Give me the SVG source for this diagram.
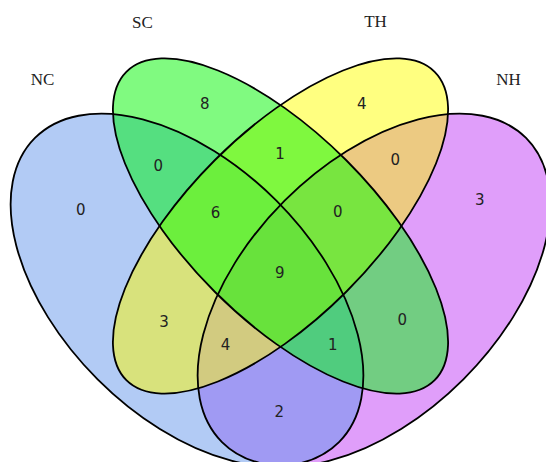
<svg xmlns="http://www.w3.org/2000/svg" xmlns:xlink="http://www.w3.org/1999/xlink" width="546" height="462" viewBox="0 0 546 462">
  <style>
    .outline { fill: none; stroke: #000; stroke-width: 1.8; }
    .set-label { font-family: "Liberation Serif", "Times New Roman", serif; font-size: 17px; fill: #222; text-anchor: middle; }
    .count { font-family: "DejaVu Sans", Verdana, sans-serif; font-size: 15px; fill: #222; text-anchor: middle; }
  </style>
  <defs>
    <!-- the four set shapes -->
    <ellipse id="eNC" cx="187" cy="290" rx="215" ry="126.4" transform="rotate(45 187 290)"/>
    <ellipse id="eSC" cx="280.5" cy="226" rx="218" ry="93" transform="rotate(45 280.5 226)"/>
    <ellipse id="eTH" cx="280.5" cy="226" rx="218" ry="93" transform="rotate(-45 280.5 226)"/>
    <ellipse id="eNH" cx="374" cy="290" rx="215" ry="126.4" transform="rotate(-45 374 290)"/>
    <clipPath id="cNC"><use href="#eNC"/></clipPath>
    <clipPath id="cSC"><use href="#eSC"/></clipPath>
    <clipPath id="cTH"><use href="#eTH"/></clipPath>
    <clipPath id="cNH"><use href="#eNH"/></clipPath>
  </defs>

  <rect width="546" height="462" fill="#fff"/>

  <!-- region fills, painted from single sets up to the four-way overlap -->
  <g id="regions">
    <use href="#eNC" fill="#b2cbf5"/>
    <use href="#eSC" fill="#80fa80"/>
    <use href="#eTH" fill="#ffff80"/>
    <use href="#eNH" fill="#e09efa"/>

    <g clip-path="url(#cNC)"><use href="#eSC" fill="#55df80"/></g>
    <g clip-path="url(#cNC)"><use href="#eTH" fill="#d8e27c"/></g>
    <g clip-path="url(#cNC)"><use href="#eNH" fill="#a09af3"/></g>
    <g clip-path="url(#cSC)"><use href="#eTH" fill="#7ff83f"/></g>
    <g clip-path="url(#cSC)"><use href="#eNH" fill="#72cd82"/></g>
    <g clip-path="url(#cTH)"><use href="#eNH" fill="#ecca82"/></g>

    <g clip-path="url(#cNC)"><g clip-path="url(#cSC)"><use href="#eTH" fill="#6cef3d"/></g></g>
    <g clip-path="url(#cNC)"><g clip-path="url(#cSC)"><use href="#eNH" fill="#50cc7e"/></g></g>
    <g clip-path="url(#cNC)"><g clip-path="url(#cTH)"><use href="#eNH" fill="#d2cb80"/></g></g>
    <g clip-path="url(#cSC)"><g clip-path="url(#cTH)"><use href="#eNH" fill="#78e540"/></g></g>

    <g clip-path="url(#cNC)"><g clip-path="url(#cSC)"><g clip-path="url(#cTH)"><use href="#eNH" fill="#68e23c"/></g></g></g>
  </g>

  <!-- set outlines and names -->
  <g id="set-nc">
    <use href="#eNC" class="outline"/>
    <text class="set-label" x="42.5" y="85">NC</text>
  </g>
  <g id="set-sc">
    <use href="#eSC" class="outline"/>
    <text class="set-label" x="142.5" y="28">SC</text>
  </g>
  <g id="set-th">
    <use href="#eTH" class="outline"/>
    <text class="set-label" x="375.5" y="27">TH</text>
  </g>
  <g id="set-nh">
    <use href="#eNH" class="outline"/>
    <text class="set-label" x="508.5" y="85">NH</text>
  </g>

  <!-- element counts per region -->
  <g id="counts">
    <text class="count" x="80.7" y="215">0</text>
    <text class="count" x="204.7" y="109.3">8</text>
    <text class="count" x="361.7" y="109.3">4</text>
    <text class="count" x="479.7" y="205">3</text>
    <text class="count" x="158.3" y="170.7">0</text>
    <text class="count" x="280" y="159">1</text>
    <text class="count" x="395.3" y="165">0</text>
    <text class="count" x="215.5" y="218.3">6</text>
    <text class="count" x="337.7" y="216.7">0</text>
    <text class="count" x="279.7" y="277.7">9</text>
    <text class="count" x="164" y="327">3</text>
    <text class="count" x="402.3" y="325.3">0</text>
    <text class="count" x="225.5" y="350.2">4</text>
    <text class="count" x="332.7" y="350">1</text>
    <text class="count" x="279.3" y="416.7">2</text>
  </g>
</svg>
